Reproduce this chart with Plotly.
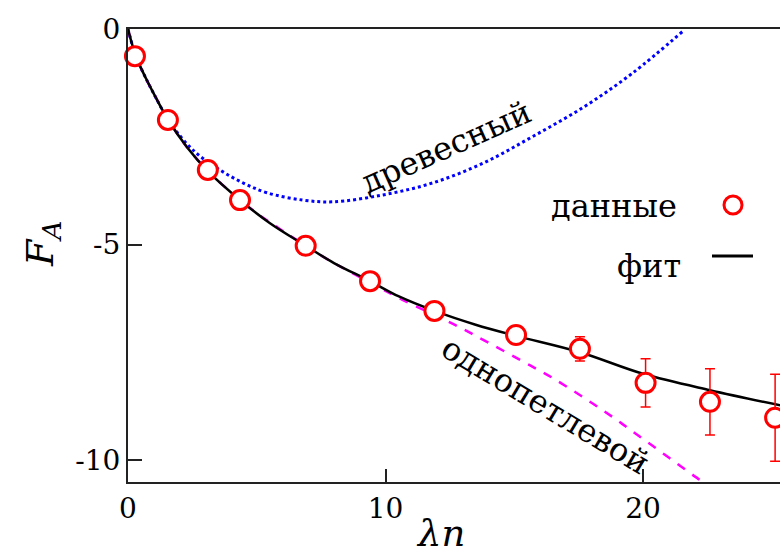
import plotly.graph_objects as go

# ---- data ----
data_x = [0.27, 1.55, 3.1, 4.35, 6.9, 9.4, 11.9, 15.07, 17.55, 20.1, 22.6, 25.13]
data_y = [-0.63, -2.11, -3.27, -3.97, -5.03, -5.85, -6.54, -7.1, -7.42, -8.21, -8.65, -9.02]
data_err = [0.0, 0.0, 0.0, 0.0, 0.0, 0.0, 0.0, 0.0, 0.28, 0.56, 0.77, 1.01]

fit_x = [0.0, 0.3, 0.7, 1.0, 1.55, 2.3, 3.1, 4.35, 5.5, 6.9, 8.0, 9.4, 10.5, 11.9, 13.5, 15.07, 17.55, 20.0, 22.6, 25.4]
fit_y = [0.0, -0.62, -1.15, -1.5, -2.1, -2.75, -3.3, -3.97, -4.5, -5.03, -5.43, -5.85, -6.2, -6.54, -6.86, -7.12, -7.5, -8.0, -8.38, -8.74]

tree_x = [0.0, 0.3, 0.7, 1.0, 1.5, 1.83, 2.6, 3.57, 4.5, 5.4, 6.8, 7.96, 9.9, 11.84, 13.8, 15.7, 17.7, 19.6, 21.55]
tree_y = [0.0, -0.62, -1.15, -1.5, -2.05, -2.34, -2.85, -3.27, -3.58, -3.8, -3.97, -4.01, -3.85, -3.57, -3.11, -2.5, -1.81, -1.02, -0.05]

loop_x = [0.0, 0.3, 1.0, 2.3, 4.35, 6.9, 8.0, 9.4, 10.68, 12.62, 13.94, 15.6, 16.5, 18.45, 20.16, 22.2, 22.33]
loop_y = [0.0, -0.62, -1.5, -2.75, -3.97, -5.03, -5.43, -5.88, -6.29, -6.84, -7.26, -7.8, -8.1, -8.85, -9.58, -10.46, -10.51]

x_ticks = [0, 10, 20]
y_ticks = [0, -5, -10]
y_ticklabels = ["0", "-5", "-10"]

label_tree = "древесный"
label_loop = "однопетлевой"
legend_labels = ["данные", "фит"]

FONT = "DejaVu Serif"

fig = go.Figure()

fig.add_trace(go.Scatter(x=tree_x, y=tree_y, mode="lines", line_shape="spline",
                         line=dict(color="#0000ff", width=3, dash="dot"), showlegend=False))
fig.add_trace(go.Scatter(x=loop_x, y=loop_y, mode="lines", line_shape="spline",
                         line=dict(color="#ff00ff", width=2.5, dash="dash"), showlegend=False))
fig.add_trace(go.Scatter(x=fit_x, y=fit_y, mode="lines", line_shape="spline",
                         line=dict(color="black", width=2.5), showlegend=False))
fig.add_trace(go.Scatter(x=data_x, y=data_y, mode="markers",
                         marker=dict(symbol="circle", size=19, color="white",
                                     line=dict(color="#ff0000", width=3)),
                         error_y=dict(type="data", array=data_err, visible=True,
                                      color="#ff0000", thickness=1.5, width=5),
                         cliponaxis=False, showlegend=False))

W, H = 780, 554
L, T, B = 128, 29, 72
pw, ph = W - L, H - T - B

def px(xp):
    return (xp - L) / pw

def py(yp):
    return (H - B - yp) / ph

def txt(text, x, y, size, angle=0, xanchor="center"):
    return dict(text=text, x=px(x), y=py(y), xref="paper", yref="paper",
                xanchor=xanchor, yanchor="middle", showarrow=False, textangle=angle,
                font=dict(family=FONT, size=size, color="black"))

annotations = [
    txt(label_tree, 446, 147, 32, -24),
    txt(label_loop, 545, 405, 32, 31),
    txt(legend_labels[0], 679, 206, 32, xanchor="right"),
    txt(legend_labels[1], 683, 266, 32, xanchor="right"),
    txt("<i>F</i><sub><i>A</i></sub>", 42, 244, 38, -90),
    txt("<i>λn</i>", 440, 533, 37),
]

shapes = [
    dict(type="circle", xref="paper", yref="paper", xsizemode="pixel", ysizemode="pixel",
         xanchor=px(733), yanchor=py(205), x0=-9, x1=9, y0=-9, y1=9,
         line=dict(color="#ff0000", width=3), fillcolor="white"),
    dict(type="line", xref="paper", yref="paper", x0=px(712), x1=px(753),
         y0=py(256), y1=py(256), line=dict(color="black", width=3)),
]

fig.update_layout(
    width=W, height=H,
    margin=dict(l=L, r=0, t=T, b=B, autoexpand=False),
    paper_bgcolor="white", plot_bgcolor="white",
    font=dict(family=FONT, color="black"),
    annotations=annotations, shapes=shapes,
    xaxis=dict(range=[0, 25.32], tickvals=x_ticks, ticks="inside", ticklen=13, tickwidth=2,
               tickcolor="#222", showline=True, linecolor="#222", linewidth=2, mirror=True,
               showgrid=False, zeroline=False, automargin=False,
               tickfont=dict(family=FONT, size=28, color="black")),
    yaxis=dict(range=[-10.51, 0], tickvals=y_ticks, ticktext=y_ticklabels, ticks="inside",
               ticklen=14, tickwidth=2, tickcolor="#222", showline=True, linecolor="#222",
               linewidth=2, showgrid=False, zeroline=False, automargin=False,
               tickfont=dict(family=FONT, size=28, color="black")),
)

fig.write_html("out.html", config={"displayModeBar": False},
               post_script="document.body.style.margin='0';document.body.style.overflow='hidden';")
